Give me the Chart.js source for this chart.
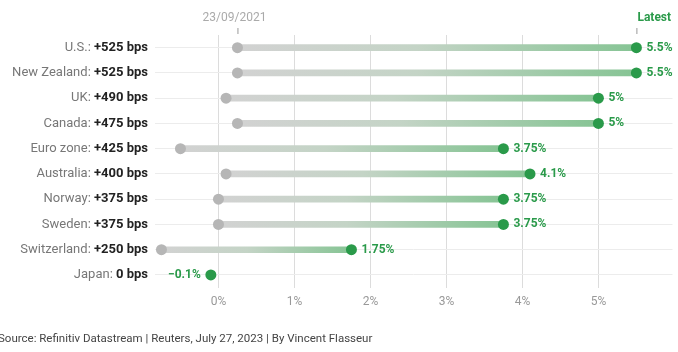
<!DOCTYPE html>
<html lang="en">
<head>
    <meta charset="UTF-8">
    <title>Policy rate changes since 23/09/2021</title>
    <script src="https://cdn.jsdelivr.net/npm/chart.js"></script>
    <style>
        html, body { margin: 0; padding: 0; background: #fff; }
        .wrap { width: 678px; height: 352px; position: relative; }
    </style>
</head>
<body>
    <div class="wrap"><canvas id="rates"></canvas></div>

    <script>
        // data
        const countries = ['U.S.', 'New Zealand', 'UK', 'Canada', 'Euro zone', 'Australia', 'Norway', 'Sweden', 'Switzerland', 'Japan'];
        const changeLabels = ['+525 bps', '+525 bps', '+490 bps', '+475 bps', '+425 bps', '+400 bps', '+375 bps', '+375 bps', '+250 bps', '0 bps'];
        const startRates = [0.25, 0.25, 0.1, 0.25, -0.5, 0.1, 0, 0, -0.75, -0.1];
        const latestRates = [5.5, 5.5, 5, 5, 3.75, 4.1, 3.75, 3.75, 1.75, -0.1];
        const latestText = ['5.5%', '5.5%', '5%', '5%', '3.75%', '4.1%', '3.75%', '3.75%', '1.75%', '\u22120.1%'];
        const xTicks = [0, 1, 2, 3, 4, 5];

        const FONT = 'Roboto, "Noto Sans", sans-serif';
        const GREEN = '#2a9a4a';

        // bar gradient from grey at the start value to green at the latest
        function barGradient(ctx) {
            const chart = ctx.chart;
            const xs = chart.scales.x;
            if (!xs || ctx.dataIndex === undefined) return '#d0d0d0';
            const i = ctx.dataIndex;
            const x0 = xs.getPixelForValue(startRates[i]);
            const x1 = xs.getPixelForValue(latestRates[i]);
            if (!isFinite(x0) || !isFinite(x1) || x1 - x0 < 1) return '#d0d0d0';
            const g = chart.ctx.createLinearGradient(x0, 0, x1, 0);
            g.addColorStop(0, '#d2d2d2');
            g.addColorStop(0.45, '#c4d4c6');
            g.addColorStop(1, '#86c494');
            return g;
        }

        const textPlugin = {
            id: 'textPlugin',
            afterDatasetsDraw(chart) {
                const c = chart.ctx;
                const xs = chart.scales.x, ys = chart.scales.y;
                c.save();
                c.textBaseline = 'middle';
                // row labels: country name + bold change
                countries.forEach((name, i) => {
                    const y = ys.getPixelForValue(i);
                    const right = 148;
                    c.font = 'bold 13px ' + FONT;
                    const w = c.measureText(changeLabels[i]).width;
                    c.textAlign = 'right';
                    c.fillStyle = '#222';
                    c.fillText(changeLabels[i], right, y);
                    c.font = '13px ' + FONT;
                    c.fillStyle = '#777';
                    c.fillText(name + ': ', right - w, y);
                });
                // latest value labels
                c.font = 'bold 12px ' + FONT;
                c.fillStyle = GREEN;
                latestRates.forEach((v, i) => {
                    const x = xs.getPixelForValue(v);
                    const y = ys.getPixelForValue(i);
                    if (v < 0) {
                        c.textAlign = 'right';
                        c.fillText(latestText[i], x - 10, y);
                    } else {
                        c.textAlign = 'left';
                        c.fillText(latestText[i], x + 10, y);
                    }
                });
                // column headers with small marks
                const sx = xs.getPixelForValue(startRates[0]);
                const lx = xs.getPixelForValue(latestRates[0]);
                c.strokeStyle = '#999';
                c.lineWidth = 1;
                c.beginPath();
                c.moveTo(sx + 0.5, 28); c.lineTo(sx + 0.5, 34);
                c.moveTo(lx + 0.5, 28); c.lineTo(lx + 0.5, 34);
                c.stroke();
                c.textAlign = 'center';
                c.font = '12px ' + FONT;
                c.fillStyle = '#aaa';
                c.fillText('23/09/2021', sx - 3, 18);
                c.textAlign = 'left';
                c.font = 'bold 12px ' + FONT;
                c.fillStyle = GREEN;
                c.fillText('Latest', lx + 1, 18);
                // source line
                c.font = '11.5px ' + FONT;
                c.fillStyle = '#444';
                c.fillText('Source: Refinitiv Datastream | Reuters, July 27, 2023 | By Vincent Flasseur', -2, 339);
                c.restore();
            }
        };

        new Chart(document.getElementById('rates'), {
            type: 'bar',
            data: {
                labels: countries,
                datasets: [
                    {
                        type: 'scatter',
                        label: 'Latest',
                        data: latestRates.map((v, i) => ({ x: v, y: i })),
                        backgroundColor: GREEN,
                        borderWidth: 0,
                        pointRadius: 5.5,
                        order: 0
                    },
                    {
                        type: 'scatter',
                        label: '23/09/2021',
                        data: startRates.map((v, i) => ({ x: v, y: i })),
                        backgroundColor: startRates.map((v, i) => v === latestRates[i] ? 'rgba(0,0,0,0)' : '#b6b6b6'),
                        borderWidth: 0,
                        pointRadius: 5.5,
                        order: 1
                    },
                    {
                        label: 'Change',
                        data: startRates.map((v, i) => [v, latestRates[i]]),
                        backgroundColor: barGradient,
                        barThickness: 6,
                        borderSkipped: false,
                        order: 2
                    }
                ]
            },
            options: {
                indexAxis: 'y',
                responsive: true,
                maintainAspectRatio: false,
                animation: false,
                layout: { padding: { left: 155, right: 0, top: 35, bottom: 36 } },
                plugins: {
                    legend: { display: false },
                    tooltip: { enabled: false }
                },
                scales: {
                    x: {
                        type: 'linear',
                        min: -0.835,
                        max: 5.975,
                        afterBuildTicks(scale) {
                            scale.ticks = xTicks.map(v => ({ value: v }));
                        },
                        ticks: {
                            callback: v => v + '%',
                            color: '#999',
                            font: { family: FONT, size: 12 },
                            padding: 7
                        },
                        grid: { color: '#dcdcdc', drawTicks: false },
                        border: { display: false }
                    },
                    y: {
                        type: 'category',
                        offset: true,
                        ticks: { display: false },
                        grid: { color: '#ececec', offset: false, drawTicks: false },
                        border: { display: false }
                    }
                }
            },
            plugins: [textPlugin]
        });
    </script>
</body>
</html>
